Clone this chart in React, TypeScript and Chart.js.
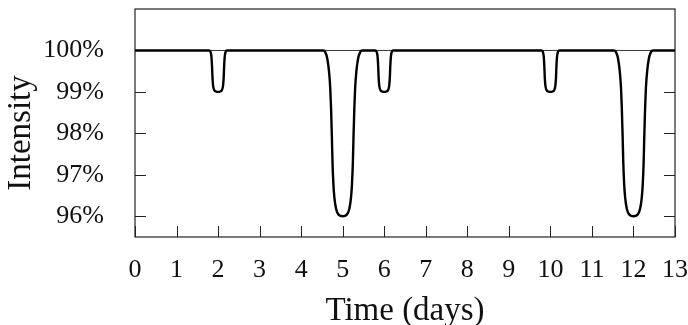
import React, { useEffect, useRef } from "react";
import { Chart, registerables } from "chart.js";

Chart.register(...registerables);

// Light curve samples (time in days, relative intensity in %)
const timeDays = [
  0,
  1.79, 1.82, 1.84, 1.855, 1.865, 1.88, 1.91, 1.95, 2.0, 2.05, 2.09, 2.12, 2.135, 2.145, 2.16, 2.18, 2.21,
  4.53, 4.58, 4.63, 4.67, 4.70, 4.72, 4.74, 4.755, 4.775, 4.80, 4.84, 4.90, 5.0, 5.10, 5.16, 5.20, 5.225, 5.245, 5.26, 5.28, 5.30, 5.33, 5.37, 5.42, 5.47,
  5.79, 5.82, 5.84, 5.855, 5.865, 5.88, 5.91, 5.95, 6.0, 6.05, 6.09, 6.12, 6.135, 6.145, 6.16, 6.18, 6.21,
  9.79, 9.82, 9.84, 9.855, 9.865, 9.88, 9.91, 9.95, 10.0, 10.05, 10.09, 10.12, 10.135, 10.145, 10.16, 10.18, 10.21,
  11.53, 11.58, 11.63, 11.67, 11.70, 11.72, 11.74, 11.755, 11.775, 11.80, 11.84, 11.90, 12.0, 12.10, 12.16, 12.20, 12.225, 12.245, 12.26, 12.28, 12.30, 12.33, 12.37, 12.42, 12.47,
  13,
];
const intensityPct = [
  100,
  100, 99.96, 99.85, 99.6, 99.35, 99.15, 99.04, 99.01, 99.0, 99.01, 99.04, 99.15, 99.35, 99.6, 99.85, 99.96, 100,
  100, 99.96, 99.8, 99.5, 99.1, 98.6, 97.9, 97.3, 96.8, 96.45, 96.18, 96.04, 96.0, 96.04, 96.18, 96.45, 96.8, 97.3, 97.9, 98.6, 99.1, 99.5, 99.8, 99.96, 100,
  100, 99.96, 99.85, 99.6, 99.35, 99.15, 99.04, 99.01, 99.0, 99.01, 99.04, 99.15, 99.35, 99.6, 99.85, 99.96, 100,
  100, 99.96, 99.85, 99.6, 99.35, 99.15, 99.04, 99.01, 99.0, 99.01, 99.04, 99.15, 99.35, 99.6, 99.85, 99.96, 100,
  100, 99.96, 99.8, 99.5, 99.1, 98.6, 97.9, 97.3, 96.8, 96.45, 96.18, 96.04, 96.0, 96.04, 96.18, 96.45, 96.8, 97.3, 97.9, 98.6, 99.1, 99.5, 99.8, 99.96, 100,
  100,
];

// Reference line at full intensity
const baselineX = [0, 13];
const baselineY = [100, 100];

const xTicks = [0, 1, 2, 3, 4, 5, 6, 7, 8, 9, 10, 11, 12, 13];
const yTicks = [96, 97, 98, 99, 100];

const xTitle = "Time (days)";
const yTitle = "Intensity";

const FONT = "'Liberation Serif', 'Times New Roman', serif";

const frameAndTicks = {
  id: "frameAndTicks",
  beforeDatasetsDraw(chart: any) {
    const { ctx, chartArea, scales } = chart;
    const { left, right, top, bottom } = chartArea;
    ctx.save();
    ctx.strokeStyle = "#222";
    ctx.lineWidth = 1.2;
    ctx.strokeRect(left, top, right - left, bottom - top);
    ctx.beginPath();
    for (const v of xTicks) {
      const px = Math.round(scales.x.getPixelForValue(v)) + 0.5;
      ctx.moveTo(px, bottom);
      ctx.lineTo(px, bottom - 11);
    }
    for (const v of yTicks) {
      const py = Math.round(scales.y.getPixelForValue(v)) + 0.5;
      ctx.moveTo(left, py);
      ctx.lineTo(left + 11, py);
      ctx.moveTo(right, py);
      ctx.lineTo(right - 11, py);
    }
    ctx.lineWidth = 1;
    ctx.stroke();
    ctx.restore();
  },
  afterDraw(chart: any) {
    const { ctx } = chart;
    ctx.save();
    ctx.fillStyle = "#111";
    ctx.font = `33px ${FONT}`;
    ctx.textAlign = "center";
    ctx.textBaseline = "alphabetic";
    ctx.translate(30, 133);
    ctx.rotate(-Math.PI / 2);
    ctx.fillText(yTitle, 0, 0);
    ctx.restore();
  },
};

export default function App() {
  const ref = useRef<HTMLCanvasElement | null>(null);

  useEffect(() => {
    if (!ref.current) return;
    const curve = timeDays.map((t, i) => ({ x: t, y: intensityPct[i] }));
    const base = baselineX.map((t, i) => ({ x: t, y: baselineY[i] }));
    const chart = new Chart(ref.current, {
      type: "line",
      data: {
        datasets: [
          {
            data: base,
            borderColor: "#000",
            borderWidth: 0.8,
            pointRadius: 0,
            order: 2,
          },
          {
            data: curve,
            borderColor: "#000",
            borderWidth: 2.4,
            pointRadius: 0,
            cubicInterpolationMode: "monotone",
            order: 1,
          },
        ],
      },
      options: {
        responsive: false,
        animation: false,
        events: [],
        layout: { padding: { top: 9, right: 13, left: 0, bottom: 0 } },
        plugins: {
          legend: { display: false },
          tooltip: { enabled: false },
        },
        scales: {
          x: {
            type: "linear",
            min: 0,
            max: 13,
            grid: { display: false, drawTicks: false },
            border: { display: false },
            afterBuildTicks: (s: any) => {
              s.ticks = xTicks.map((v) => ({ value: v }));
            },
            afterFit: (s: any) => {
              s.height = 88;
              s.paddingLeft = 0;
              s.paddingRight = 0;
              s.paddingTop = 0;
              s.paddingBottom = 0;
            },
            ticks: {
              autoSkip: false,
              maxRotation: 0,
              padding: 18,
              color: "#111",
              font: { family: FONT, size: 26 },
            },
            title: {
              display: true,
              text: xTitle,
              color: "#111",
              font: { family: FONT, size: 33, lineHeight: 0.8 },
              padding: { top: 0, bottom: 0.5 },
            },
          },
          y: {
            type: "linear",
            min: 95.5,
            max: 101,
            grid: { display: false, drawTicks: false },
            border: { display: false },
            afterBuildTicks: (s: any) => {
              s.ticks = yTicks.map((v) => ({ value: v }));
            },
            afterFit: (s: any) => {
              s.width = 135;
              s.paddingTop = 0;
              s.paddingBottom = 0;
              s.paddingLeft = 0;
              s.paddingRight = 0;
            },
            ticks: {
              padding: 31,
              color: "#111",
              font: { family: FONT, size: 26 },
              callback: (v: any) => `${v}%`,
            },
            title: { display: false },
          },
        },
      },
      plugins: [frameAndTicks],
    });
    return () => chart.destroy();
  }, []);

  return (
    <div style={{ position: "fixed", left: 0, top: 0, width: 688, height: 325, background: "#fff" }}>
      <canvas ref={ref} width={688} height={325} style={{ display: "block" }} />
    </div>
  );
}
